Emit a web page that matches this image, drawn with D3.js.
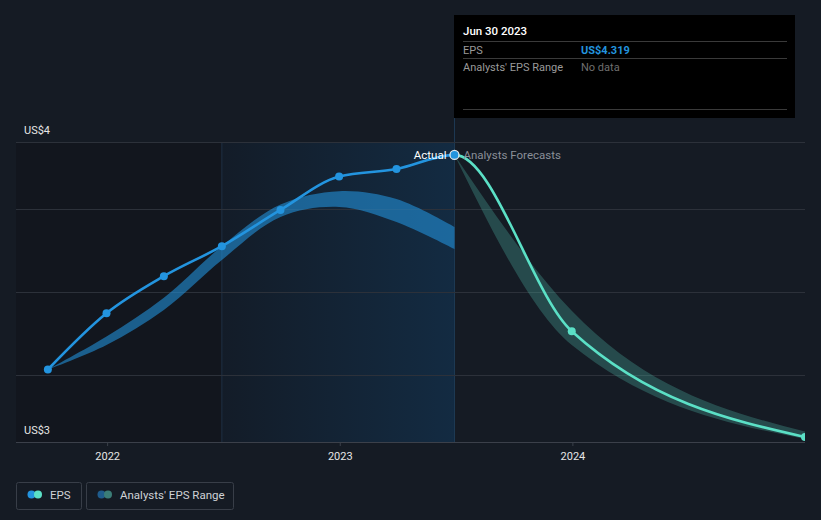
<!DOCTYPE html>
<html>
<head>
<meta charset="utf-8">
<script src="https://cdn.jsdelivr.net/npm/d3@7/dist/d3.min.js"></script>
<style>
  html, body { margin: 0; padding: 0; background: #151b24; }
  svg { display: block; font-family: Roboto, "Noto Sans", sans-serif; }
</style>
</head>
<body>
<svg id="chart" width="821" height="520"></svg>
<script>
// ---- data ----
const actualDates  = ["2021-09-30","2021-12-31","2022-03-31","2022-06-30","2022-09-30","2022-12-31","2023-03-31","2023-06-30"];
const actualEPS    = [3.804, 3.939, 4.028, 4.100, 4.187, 4.267, 4.285, 4.319];
const pastRangeLow = [3.804, 3.863, 3.947, 4.067, 4.170, 4.194, 4.158, 4.093];
const pastRangeHigh= [3.804, 3.883, 3.976, 4.100, 4.200, 4.232, 4.213, 4.146];
const forecastDates= ["2023-06-30","2023-12-31","2024-12-31"];
const forecastEPS  = [4.319, 3.896, 3.642];
const fcRangeLow   = [4.319, 3.863, 3.637];
const fcRangeHigh  = [4.319, 3.945, 3.655];
const xTickLabels  = ["2022","2023","2024"];
const yGridValues  = [3.79, 3.99, 4.19, 4.35];
const yLabels      = [{v: 4.35, t: "US$4"}, {v: 3.63, t: "US$3"}];
const domainDates  = ["2021-08-11","2024-12-31"];
const yDomain      = [3.63, 4.35];
const pastStart    = "2022-06-30";
const currentDate  = "2023-06-30";
const tooltipDate  = "Jun 30 2023";
const tooltipEPS   = "US$4.319";
const tooltipRange = "No data";
const legendItems  = ["EPS", "Analysts' EPS Range"];

(function () {
// ---- setup ----
const parse = d3.utcParse("%Y-%m-%d");
const svg = d3.select("#chart");
const W = 821, H = 520;
const pL = 16, pR = 805, pT = 142, pB = 442;

const x = d3.scaleUtc().domain(domainDates.map(parse)).range([pL, pR]);
const y = d3.scaleLinear().domain(yDomain).range([pB, pT]);

const cBlue = "#2394df", cTeal = "#5be0c6";

svg.append("rect").attr("width", W).attr("height", H).attr("fill", "#151b24");

const defs = svg.append("defs");
const grad = defs.append("linearGradient").attr("id", "hl").attr("x1", 0).attr("x2", 1).attr("y1", 0).attr("y2", 0);
grad.append("stop").attr("offset", "0%").attr("stop-color", "#131c28");
grad.append("stop").attr("offset", "100%").attr("stop-color", "#132b42");

const xPast = x(parse(pastStart)), xNow = x(parse(currentDate));

// darker past region
svg.append("rect").attr("x", pL).attr("y", pT).attr("width", xPast - pL).attr("height", pB - pT).attr("fill", "#12161e");
// highlight last year
svg.append("rect").attr("x", xPast).attr("y", pT).attr("width", xNow - xPast).attr("height", pB - pT).attr("fill", "url(#hl)");
svg.append("line").attr("x1", xPast).attr("x2", xPast).attr("y1", pT).attr("y2", pB).attr("stroke", "#1d3044").attr("stroke-width", 1);
svg.append("line").attr("x1", xNow).attr("x2", xNow).attr("y1", 118).attr("y2", pB).attr("stroke", "#1e3a54").attr("stroke-width", 1);

// gridlines
svg.append("g").selectAll("line").data(yGridValues).join("line")
  .attr("x1", pL).attr("x2", pR)
  .attr("y1", d => Math.round(y(d)) + 0.5).attr("y2", d => Math.round(y(d)) + 0.5)
  .attr("stroke", "#2c313a").attr("stroke-width", 1);

// y labels
svg.append("g").selectAll("text").data(yLabels).join("text")
  .attr("x", 24).attr("y", d => y(d.v) - 8)
  .attr("fill", "#e6e6e6").attr("font-size", 11)
  .text(d => d.t);

// x axis
const xAxis = d3.axisBottom(x)
  .tickValues(xTickLabels.map(t => parse(t + "-01-01")))
  .tickFormat(d3.utcFormat("%Y"))
  .tickSize(4).tickPadding(6);
const gx = svg.append("g").attr("transform", `translate(0,${pB})`).call(xAxis);
gx.select(".domain").attr("stroke", "#3b404a").attr("d", `M${pL},0.5H${pR}`);
gx.selectAll(".tick line").attr("stroke", "#3b404a");
gx.selectAll(".tick text").attr("fill", "#e6e6e6").attr("font-size", 11).attr("font-family", "Roboto, sans-serif");

// clip paths
defs.append("clipPath").attr("id", "plotclip").append("rect").attr("x", pL).attr("y", 0).attr("width", pR - pL).attr("height", H);
defs.append("clipPath").attr("id", "pastclip").append("rect").attr("x", 0).attr("y", 0).attr("width", xNow).attr("height", H);
defs.append("clipPath").attr("id", "futclip").append("rect").attr("x", xNow).attr("y", 0).attr("width", pR - xNow).attr("height", H);

const plot = svg.append("g").attr("clip-path", "url(#plotclip)");

// bands
const pastArea = d3.area().curve(d3.curveCatmullRom.alpha(0.5))
  .x(d => x(d.date)).y0(d => y(d.lo)).y1(d => y(d.hi));
const fcArea = d3.area().curve(d3.curveMonotoneX)
  .x(d => x(d.date)).y0(d => y(d.lo)).y1(d => y(d.hi));
const pastBand = actualDates.map((d, i) => ({date: parse(d), lo: pastRangeLow[i], hi: pastRangeHigh[i]}));
const fcBand = forecastDates.map((d, i) => ({date: parse(d), lo: fcRangeLow[i], hi: fcRangeHigh[i]}));
plot.append("path").datum(pastBand).attr("d", pastArea).attr("fill", cBlue).attr("fill-opacity", 0.58);
plot.append("path").datum(fcBand).attr("d", fcArea).attr("fill", "#4fb8a8").attr("fill-opacity", 0.3);

// line (one continuous monotone curve, coloured by period)
const allPts = actualDates.map((d, i) => ({date: parse(d), v: actualEPS[i]}))
  .concat(forecastDates.slice(1).map((d, i) => ({date: parse(d), v: forecastEPS[i + 1]})));
const line = d3.line().curve(d3.curveMonotoneX).x(d => x(d.date)).y(d => y(d.v));
plot.append("path").datum(allPts).attr("d", line).attr("fill", "none")
  .attr("stroke", cBlue).attr("stroke-width", 2.6).attr("clip-path", "url(#pastclip)");
plot.append("path").datum(allPts).attr("d", line).attr("fill", "none")
  .attr("stroke", cTeal).attr("stroke-width", 2.6).attr("clip-path", "url(#futclip)");

// markers
const actPts = allPts.slice(0, actualDates.length);
plot.append("g").selectAll("circle").data(actPts.slice(0, -1)).join("circle")
  .attr("cx", d => x(d.date)).attr("cy", d => y(d.v)).attr("r", 4).attr("fill", cBlue);
const fcPts = forecastDates.slice(1).map((d, i) => ({date: parse(d), v: forecastEPS[i + 1]}));
plot.append("g").selectAll("circle").data(fcPts).join("circle")
  .attr("cx", d => x(d.date)).attr("cy", d => y(d.v)).attr("r", 4).attr("fill", cTeal);
const last = actPts[actPts.length - 1];
plot.append("circle").attr("cx", x(last.date)).attr("cy", y(last.v)).attr("r", 4.5)
  .attr("fill", cBlue).attr("stroke", "#dfe8f0").attr("stroke-width", 1.3);

// labels at current point
svg.append("text").attr("x", x(last.date) - 8).attr("y", y(last.v) + 4)
  .attr("text-anchor", "end").attr("fill", "#ffffff").attr("font-size", 11.5).text("Actual");
svg.append("text").attr("x", x(last.date) + 9).attr("y", y(last.v) + 4)
  .attr("fill", "#8a8f98").attr("font-size", 11.5).text("Analysts Forecasts");

// tooltip
const tt = svg.append("g");
tt.append("rect").attr("x", 454).attr("y", 15).attr("width", 341).attr("height", 103).attr("fill", "#000000");
tt.append("text").attr("x", 463).attr("y", 35).attr("fill", "#ffffff").attr("font-size", 11.5).attr("font-weight", 500).text(tooltipDate);
[41.5, 58.5, 109.5].forEach(yy => tt.append("line").attr("x1", 463).attr("x2", 787).attr("y1", yy).attr("y2", yy).attr("stroke", "#3a3a3a"));
tt.append("text").attr("x", 463).attr("y", 53.5).attr("fill", "#9a9a9a").attr("font-size", 11).text("EPS");
tt.append("text").attr("x", 581).attr("y", 53.5).attr("fill", cBlue).attr("font-size", 11).attr("font-weight", 700).text(tooltipEPS);
tt.append("text").attr("x", 463).attr("y", 70.5).attr("fill", "#9a9a9a").attr("font-size", 11).text("Analysts' EPS Range");
tt.append("text").attr("x", 581).attr("y", 70.5).attr("fill", "#6f6f6f").attr("font-size", 11).text(tooltipRange);

// legend
const lg = svg.append("g");
const boxes = [{x: 16.5, w: 65, c1: cBlue, c2: cTeal}, {x: 86.5, w: 147, c1: "#1f5c8c", c2: "#3b7d77"}];
boxes.forEach((b, i) => {
  lg.append("rect").attr("x", b.x).attr("y", 482.5).attr("width", b.w).attr("height", 27).attr("rx", 2)
    .attr("fill", "none").attr("stroke", "#383e48");
  lg.append("circle").attr("cx", b.x + 15).attr("cy", 494.5).attr("r", 4).attr("fill", b.c1);
  lg.append("circle").attr("cx", b.x + 21.5).attr("cy", 494.5).attr("r", 4).attr("fill", b.c2);
  lg.append("text").attr("x", b.x + 33.5).attr("y", 498.5).attr("fill", "#cfd2d6").attr("font-size", 11.5).text(legendItems[i]);
});
})();
</script>
</body>
</html>
